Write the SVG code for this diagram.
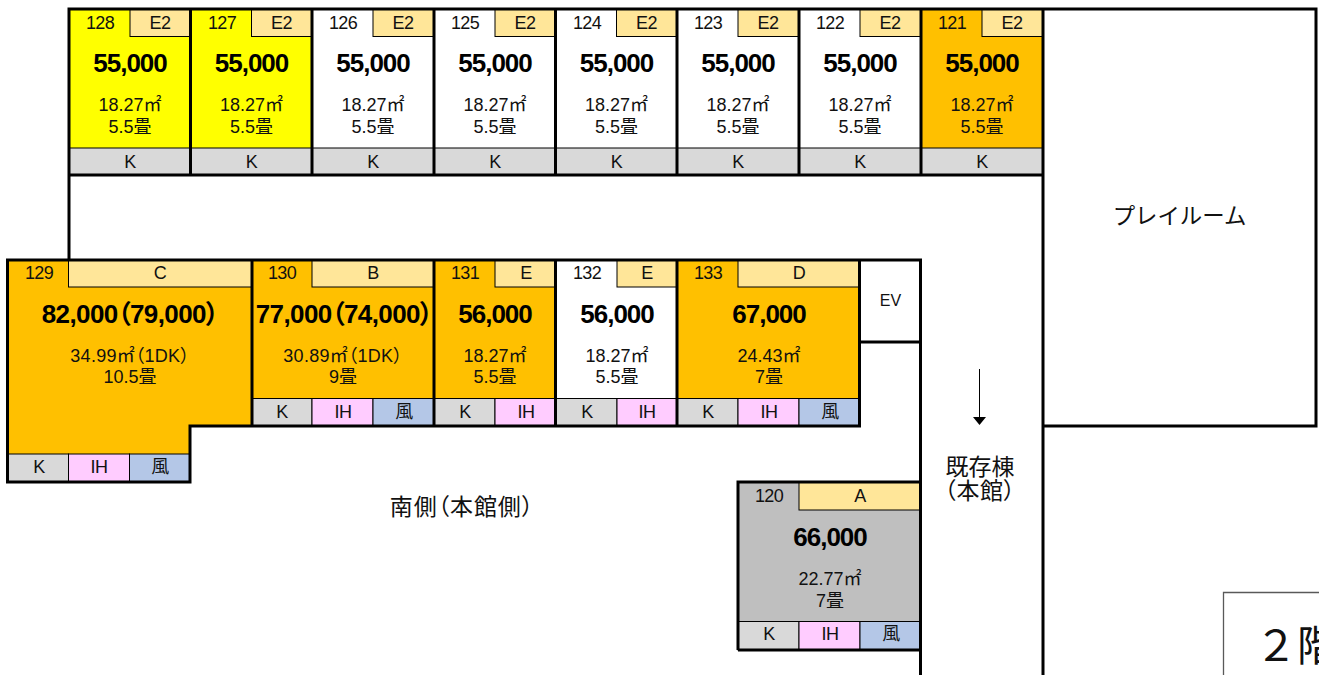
<svg xmlns="http://www.w3.org/2000/svg" width="1319" height="675" viewBox="0 0 1319 675">
<defs>
<style>
text{font-family:"Liberation Sans","Noto Sans CJK JP",sans-serif;text-anchor:middle;fill:#111}
.n{font-size:18px;letter-spacing:-.6px}
.p{font-size:26px;font-weight:bold;fill:#000;letter-spacing:-1px;font-feature-settings:"palt"}
.a{font-size:18px;font-feature-settings:"palt"}
.pw{letter-spacing:-.6px}
.aw{letter-spacing:.3px}
.h{fill:#ffe699;stroke:#000;stroke-width:1}
.k{fill:#d9d9d9;stroke:#000;stroke-width:1}
.i{fill:#ffccff;stroke:#000;stroke-width:1}
.f{fill:#b4c7e7;stroke:#000;stroke-width:1}
.w{fill:#fff}.y{fill:#ff0}.o{fill:#ffc000}.g{fill:#bfbfbf}
.t{fill:none;stroke:#000;stroke-width:3}
.l{font-size:23px;font-feature-settings:"palt"}
</style>
<g id="top-cell">
<rect class="h" x="61" y="9" width="60.5" height="27.5"/>
<rect class="k" x="0" y="148" width="121.5" height="27"/>
<text class="n" x="91" y="29">E2</text>
<text class="p" x="61" y="72">55,000</text>
<text class="a" x="61" y="111">18.27㎡</text>
<text class="a" x="61" y="133">5.5畳</text>
<text class="n" x="61" y="168">K</text>
</g>
</defs>
<rect width="1319" height="675" fill="#fff"/>

<g id="room-128"><rect class="y" x="69" y="9" width="121.5" height="166"/><use href="#top-cell" x="69"/><text class="n" x="100" y="29">128</text></g>
<g id="room-127"><rect class="y" x="190.5" y="9" width="121.5" height="166"/><use href="#top-cell" x="190.5"/><text class="n" x="222" y="29">127</text></g>
<g id="room-126"><rect class="w" x="312" y="9" width="122" height="166"/><use href="#top-cell" x="312"/><text class="n" x="343" y="29">126</text></g>
<g id="room-125"><rect class="w" x="434" y="9" width="121.5" height="166"/><use href="#top-cell" x="434"/><text class="n" x="465" y="29">125</text></g>
<g id="room-124"><rect class="w" x="555.5" y="9" width="121.5" height="166"/><use href="#top-cell" x="555.5"/><text class="n" x="587" y="29">124</text></g>
<g id="room-123"><rect class="w" x="677" y="9" width="122" height="166"/><use href="#top-cell" x="677"/><text class="n" x="708" y="29">123</text></g>
<g id="room-122"><rect class="w" x="799" y="9" width="122" height="166"/><use href="#top-cell" x="799"/><text class="n" x="830" y="29">122</text></g>
<g id="room-121"><rect class="o" x="921" y="9" width="122" height="166"/><use href="#top-cell" x="921"/><text class="n" x="952" y="29">121</text></g>

<g id="room-129">
<path class="o" d="M7.500 260H252V426H190V482H7.500Z"/>
<rect class="h" x="68.500" y="260" width="183.500" height="27"/>
<rect class="k" x="7.500" y="454" width="61" height="28"/><rect class="i" x="68.500" y="454" width="61" height="28"/><rect class="f" x="129.500" y="454" width="60.500" height="28"/>
<text class="n" x="39" y="279">129</text><text class="n" x="160" y="279">C</text>
<text class="p pw" x="130" y="323">82,000（79,000）</text>
<text class="a aw" x="130" y="362">34.99㎡（1DK）</text><text class="a" x="130" y="383">10.5畳</text>
<text class="n" x="39" y="473">K</text><text class="n" x="99" y="473">IH</text><text class="n" x="160" y="473">風</text>
</g>
<g id="room-130">
<rect class="o" x="252" y="260" width="182" height="166"/>
<rect class="h" x="312" y="260" width="122" height="27"/>
<rect class="k" x="252" y="398.500" width="60" height="27.500"/><rect class="i" x="312" y="398.500" width="61" height="27.500"/><rect class="f" x="373" y="398.500" width="61" height="27.500"/>
<text class="n" x="282" y="279">130</text><text class="n" x="373" y="279">B</text>
<text class="p pw" x="344" y="323">77,000（74,000）</text>
<text class="a aw" x="343" y="362">30.89㎡（1DK）</text><text class="a" x="343" y="383">9畳</text>
<text class="n" x="282" y="418">K</text><text class="n" x="343" y="418">IH</text><text class="n" x="404" y="418">風</text>
</g>
<g id="room-131">
<rect class="o" x="434" y="260" width="121.500" height="166"/>
<rect class="h" x="495" y="260" width="60.500" height="27"/>
<rect class="k" x="434" y="398.500" width="61" height="27.500"/><rect class="i" x="495" y="398.500" width="60.500" height="27.500"/>
<text class="n" x="465" y="279">131</text><text class="n" x="526" y="279">E</text>
<text class="p" x="495" y="323">56,000</text>
<text class="a" x="495" y="362">18.27㎡</text><text class="a" x="495" y="383">5.5畳</text>
<text class="n" x="465" y="418">K</text><text class="n" x="526" y="418">IH</text>
</g>
<g id="room-132">
<rect class="w" x="555.500" y="260" width="121.500" height="166"/>
<rect class="h" x="617" y="260" width="60" height="27"/>
<rect class="k" x="555.500" y="398.500" width="61.500" height="27.500"/><rect class="i" x="617" y="398.500" width="60" height="27.500"/>
<text class="n" x="587" y="279">132</text><text class="n" x="647" y="279">E</text>
<text class="p" x="617" y="323">56,000</text>
<text class="a" x="617" y="362">18.27㎡</text><text class="a" x="617" y="383">5.5畳</text>
<text class="n" x="587" y="418">K</text><text class="n" x="647" y="418">IH</text>
</g>
<g id="room-133">
<rect class="o" x="677" y="260" width="182.500" height="166"/>
<rect class="h" x="738" y="260" width="121.500" height="27"/>
<rect class="k" x="677" y="398.500" width="61" height="27.500"/><rect class="i" x="738" y="398.500" width="61" height="27.500"/><rect class="f" x="799" y="398.500" width="60.500" height="27.500"/>
<text class="n" x="708" y="279">133</text><text class="n" x="799" y="279">D</text>
<text class="p" x="769" y="323">67,000</text>
<text class="a" x="769" y="362">24.43㎡</text><text class="a" x="769" y="383">7畳</text>
<text class="n" x="708" y="418">K</text><text class="n" x="769" y="418">IH</text><text class="n" x="830" y="418">風</text>
</g>
<g id="ev">
<text style="font-size:16px" x="890.500" y="306">EV</text>
</g>
<g id="room-120">
<rect class="g" x="738" y="482" width="182.500" height="168"/>
<rect class="h" x="799" y="482" width="121.500" height="28"/>
<rect class="k" x="738" y="621.500" width="61" height="28.500"/><rect class="i" x="799" y="621.500" width="61" height="28.500"/><rect class="f" x="860" y="621.500" width="60.500" height="28.500"/>
<text class="n" x="769" y="502">120</text><text class="n" x="860" y="502">A</text>
<text class="p" x="830" y="546">66,000</text>
<text class="a" x="830" y="585">22.77㎡</text><text class="a" x="830" y="607">7畳</text>
<text class="n" x="769" y="640">K</text><text class="n" x="830" y="640">IH</text><text class="n" x="891" y="640">風</text>
</g>
<g id="playroom"><text style="font-size:22.400px" x="1179.500" y="224">プレイルーム</text></g>
<g id="south-label"><text class="l" style="letter-spacing:.9px" x="462" y="515">南側（本館側）</text></g>
<g id="main-building"><text class="l" x="980" y="475">既存棟</text><text class="l" style="letter-spacing:.6px" x="980" y="499">（本館）</text></g>
<g id="floor-box">
<path d="M1223.500 675V592.500H1319" fill="none" stroke="#595959" stroke-width="1.300"/>
<text style="font-size:42px;text-anchor:start" x="1255" y="661">２階</text>
</g>

<g id="connectors">
<path class="t" d="M69 260V9H1316V426H1043M1043 9V675M920.500 260V675M859.500 342H920.500"/>
<path class="t" d="M69 175H1043"/>
<path class="t" d="M190.500 9V175M312 9V175M434 9V175M555.500 9V175M677 9V175M799 9V175M921 9V175"/>
<path class="t" d="M6 260H922M7.500 260V482H190V426H859.500V260M252 260V426M434 260V426M555.500 260V426M677 260V426"/>
<path class="t" d="M738 650V482H920.500M738 650H920.500"/>
<path d="M979.500 369V418" stroke="#000" stroke-width="1" fill="none"/>
<path d="M973 417H986L979.500 425Z" fill="#000"/>
</g>
</svg>
